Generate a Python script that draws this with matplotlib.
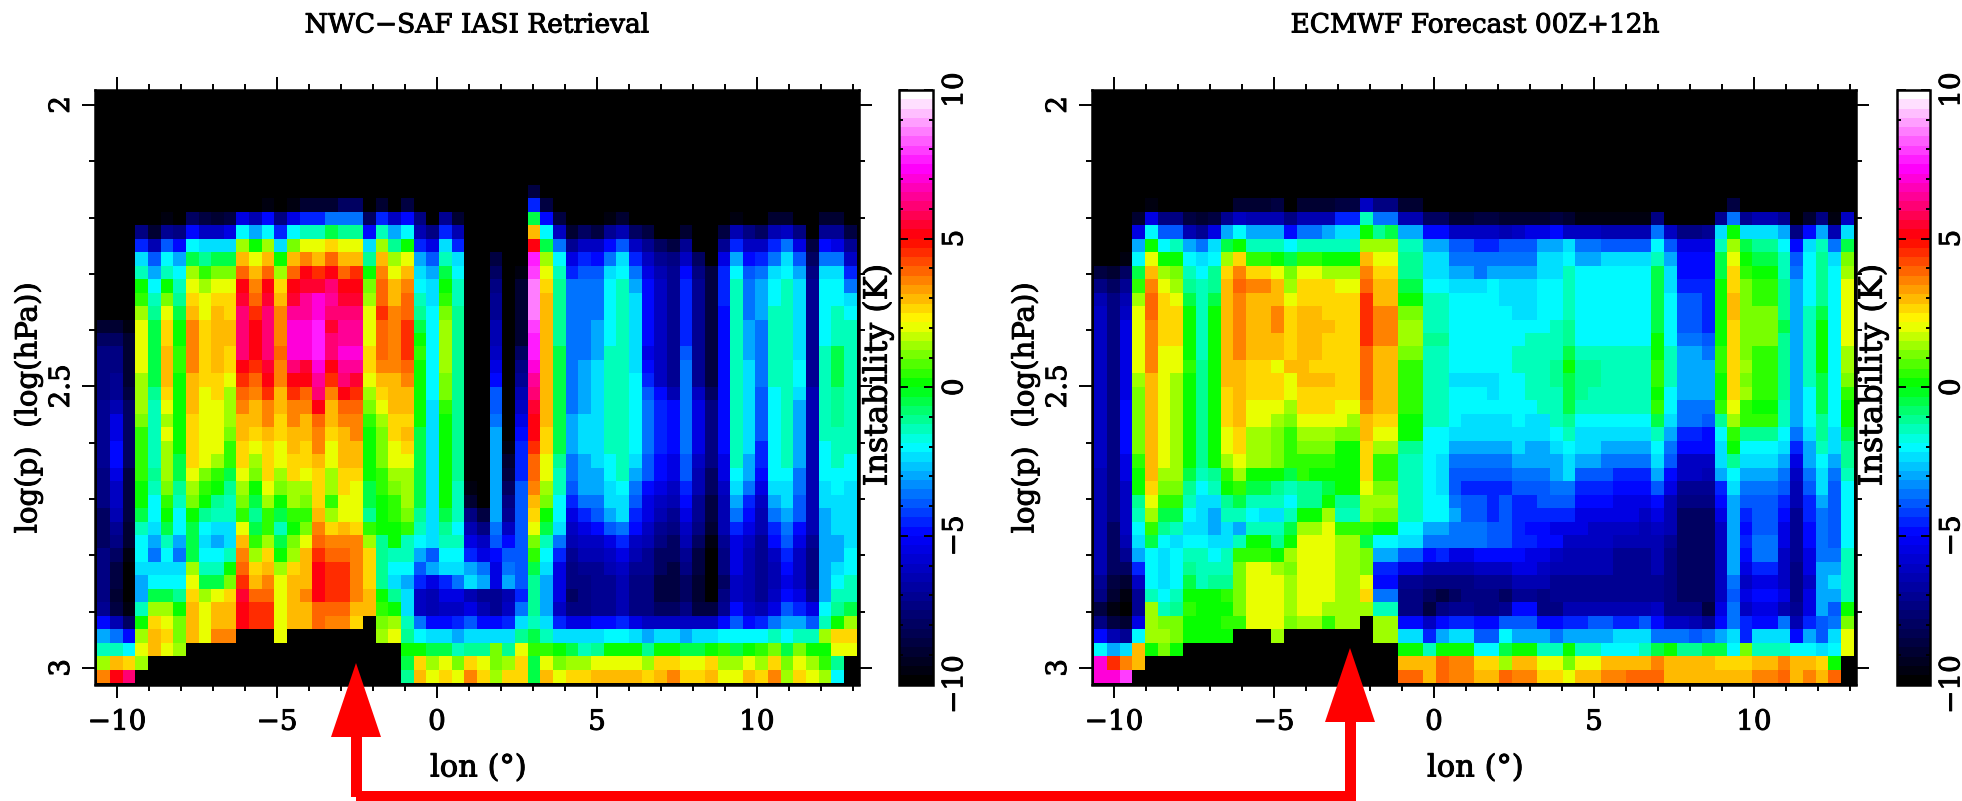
import numpy as np
import matplotlib
matplotlib.use("Agg")
import matplotlib.pyplot as plt
import matplotlib.patheffects as pe
from matplotlib.colors import LinearSegmentedColormap, Normalize
from matplotlib.patches import Polygon, Rectangle
from matplotlib.cm import ScalarMappable

B = -20  # black / no data (values below are instability in half-kelvin units)
plt.rcParams['font.family'] = ['DejaVu Serif']
plt.rcParams['axes.unicode_minus'] = True

titles = ["NWC\u2212SAF IASI Retrieval", "ECMWF Forecast 00Z+12h"]
x_ticks = [-10, -5, 0, 5, 10]
y_ticks = [2, 2.5, 3]
y_tick_labels = ["2", "2.5", "3"]
cbar_ticks = [-10, -5, 0, 5, 10]

# ---------------- NWC-SAF IASI retrieval, rows from top to bottom ----------------
iasi_00 = [B]*34+[-17]+[B]*25
iasi_01 = [B]*13+[-19,B,-19,-18,-18,-18,-16,-16,B,-18,B,-17]+[B]*9+[-9,-17]+[B]*24
iasi_02 = [B]*5+[-19,B,-16,-17,-18,-17]+[-11,-13,-10,-15,-11,-9,-9,-7,-7,-7,-16,-9,-12,-10,-15]+[B,-14,-18]+[B]*5+[-1,-10,-17]+[B]*3+[-19,-18]+[B]*8+[-19,B,B,-18,-18,B,B,-18,-18,B]
iasi_03 = [B]*3+[-15,-18,-14,-15,-10,-12,-12,-11,-4,-6,-4,-9,-4,-3,-3,-1,-2,-2,-10,-3,-6,-4,-13,-15,-9,-13]+[B]*5+[6,-4,-12,-18,-16,-17,-14,-13,-16,-17]+[B,B,-18,B,B]+[-17,-13,-15,-16,-13,-12,-15,B,-14,-14,-17]
iasi_04 = [B]*3+[-9,-13,-8,-10,-4,-5,-5,-5,3,0,3,-5,2,4,4,5,4,4,-5,3,-2,0,-9,-11,-5,-9]+[B]*5+[10,-1,-7,-14,-12,-12,-10,-8,-12,-14,-16,-17,-14]+[B,B]+[-14,-9,-12,-12,-9,-7,-11,-17,-10,-11,-14]
iasi_05 = [B]*3+[-5,-8,-4,-6,-1,-2,-1,-1,6,4,6,0,6,7,6,8,6,6,-2,6,3,4,-6,-8,-3,-5]+[B,B,-17,B,B]+[15,3,-4,-11,-9,-10,-7,-5,-9,-12,-14,-15,-12,-16]+[B]+[-11,-6,-10,-9,-7,-5,-8,-16,-7,-7,-12]
iasi_06 = [B]*3+[-3,-6,-3,-4,3,1,2,2,8,6,8,3,8,10,9,10,8,9,0,7,4,6,-5,-6,-1,-4]+[B,B,-16,B,-19]+[16,4,-3,-9,-8,-8,-5,-4,-7,-11,-13,-14,-10,-15,-17]+[-9,-4,-8,-7,-5,-4,-6,-15,-5,-5,-9]
iasi_07 = [B]*3+[0,-4,0,-3,4,3,4,4,10,7,10,5,10,11,11,12,10,10,2,8,6,7,-4,-5,0,-3]+[B,B,-15,B,-18]+[17,5,-2,-7,-7,-7,-4,-3,-6,-10,-12,-14,-9,-14,-17]+[-9,-3,-7,-6,-4,-3,-5,-14,-4,-4,-7]
iasi_08 = [B]*3+[1,-3,2,-2,5,4,5,5,11,8,11,6,11,13,14,13,11,11,3,8,6,8,-3,-5,1,-3]+[B,B,-14,B,-18]+[17,6,-2,-7,-7,-7,-4,-3,-5,-10,-12,-14,-9,-14,-17]+[-9,-3,-7,-6,-4,-3,-5,-14,-4,-4,-5]
iasi_09 = [B]*3+[3,-2,4,-1,6,4,6,5,12,9,12,7,13,13,14,12,12,12,4,9,7,8,-2,-4,2,-2]+[B,B,-14,B,-18]+[17,6,-2,-7,-7,-7,-4,-3,-5,-10,-12,-14,-9,-14,-17]+[-10,-3,-7,-6,-3,-3,-5,-14,-4,-3,-4]
iasi_10 = [-18,-18,-19,4,-1,5,0,7,5,6,6,12,10,12,7,14,14,15,11,13,13,4,8,7,9,-1,-4,3,-2]+[B,B,-13,B,-18]+[16,6,-2,-7,-7,-6,-4,-3,-5,-10,-12,-14,-9,-14,-17]+[-10,-3,-6,-7,-3,-3,-5,-14,-4,-3,-3]
iasi_11 = [-16,-16,-18,4,-1,5,0,7,5,6,6,12,10,12,7,14,14,15,12,13,13,4,8,7,9,0,-4,3,-2]+[B,B,-13,B,-18]+[15,6,-2,-7,-7,-6,-4,-3,-5,-10,-12,-14,-9,-14,-17]+[-10,-3,-6,-7,-3,-3,-5,-14,-4,-3,-3]
iasi_12 = [-15,-15,-18,4,-1,6,1,7,5,6,5,12,10,12,8,14,14,15,12,14,14,5,8,7,9,1,-4,3,-2]+[B,B,-12,B,-16]+[15,6,-1,-7,-7,-6,-3,-3,-5,-11,-12,-14,-8,-14,-17]+[-10,-3,-6,-7,-3,-3,-5,-14,-3,-1,-3]
iasi_13 = [-15,-15,-18,4,-1,6,1,7,5,6,5,10,9,11,7,12,11,14,10,13,13,5,7,7,8,0,-4,3,-2]+[B,B,-11,B,-15]+[14,6,-1,-7,-6,-5,-3,-3,-5,-10,-12,-14,-7,-14,-17]+[-10,-3,-5,-7,-3,-3,-4,-14,-3,-1,-3]
iasi_14 = [-15,-14,-18,3,-1,6,0,6,5,5,4,9,8,10,7,10,10,13,9,12,11,4,6,6,7,0,-4,2,-2]+[B,B,-10,B,-14]+[13,6,-1,-7,-6,-5,-3,-3,-4,-9,-12,-14,-7,-14,-17]+[-10,-3,-5,-7,-3,-3,-4,-14,-3,-1,-3]
iasi_15 = [-15,-14,-17,3,-2,5,0,6,4,5,3,8,7,9,6,9,8,12,7,10,9,3,5,6,6,0,-4,2,-2]+[B,B,-8,B,-13]+[12,6,-1,-7,-6,-5,-3,-3,-4,-8,-10,-13,-7,-12,-16]+[-10,-3,-5,-8,-4,-3,-5,-13,-3,-2,-3]
iasi_16 = [-14,-13,-16,3,-3,4,0,6,4,4,3,7,6,7,6,7,7,10,6,8,8,2,4,6,6,0,-5,1,-2]+[B,B,-8,B,-12]+[11,6,-1,-7,-6,-5,-3,-3,-4,-7,-9,-10,-7,-11,-15]+[-10,-3,-5,-8,-4,-3,-6,-13,-3,-2,-3]
iasi_17 = [-14,-11,-16,2,-3,3,0,5,4,4,3,6,6,7,5,7,6,8,6,7,7,1,3,5,5,0,-5,0,-2]+[B,B,-7,B,-11]+[10,6,-1,-6,-5,-5,-3,-3,-4,-7,-9,-10,-7,-11,-15]+[-10,-3,-5,-8,-4,-3,-6,-13,-3,-2,-3]
iasi_18 = [-14,-11,-16,1,-3,4,0,5,4,4,2,6,5,6,5,6,6,7,5,6,7,0,2,5,6,-1,-5,0,-2]+[B,B,-6,B,-10]+[10,5,-1,-6,-5,-5,-3,-3,-4,-7,-9,-10,-7,-11,-15]+[-10,-3,-5,-8,-4,-3,-6,-13,-3,-3,-3]
iasi_19 = [-14,-10,-16,1,-3,3,0,5,4,4,1,5,4,5,4,6,5,7,4,6,6,0,2,4,5,-1,-5,0,-2]+[B,B,-6,-19,-9]+[9,5,-1,-6,-5,-5,-3,-3,-4,-7,-9,-10,-7,-11,-15]+[-10,-3,-5,-9,-4,-3,-6,-13,-4,-3,-3]
iasi_20 = [-14,-10,-16,1,-3,3,-1,5,4,3,1,5,3,5,4,5,5,6,4,6,6,0,2,4,4,-1,-5,0,-2]+[B,B,-6,-18,-9]+[8,4,-2,-7,-6,-5,-4,-3,-5,-8,-10,-11,-8,-12,-15]+[-11,-3,-6,-9,-4,-3,-6,-13,-4,-3,-4]
iasi_21 = [-15,-11,-17,1,-2,3,-1,4,2,1,-1,4,2,5,3,5,4,5,3,5,5,0,1,3,3,-1,-5,0,-2]+[B,B,-6,-17,-9]+[8,4,-3,-7,-6,-6,-4,-3,-6,-8,-10,-11,-8,-13,-16]+[-11,-4,-6,-10,-4,-4,-7,-13,-4,-4,-4]
iasi_22 = [-15,-12,-17,0,-3,2,-2,3,1,0,-2,3,0,4,2,3,3,5,3,5,4,-1,1,2,3,-1,-5,0,-3]+[-19,B,-6,-16,-8]+[7,3,-3,-8,-6,-6,-5,-4,-7,-10,-11,-12,-9,-13,-16]+[-12,-5,-7,-11,-5,-5,-7,-13,-5,-4,-5]
iasi_23 = [-15,-12,-17,0,-4,1,-3,2,0,-2,-3,2,-1,3,0,3,2,5,1,4,4,-1,0,1,3,-1,-5,0,-3]+[-18,B,-6,-15,-8]+[6,2,-4,-9,-7,-7,-5,-5,-8,-11,-12,-13,-10,-14,-17]+[-13,-6,-9,-12,-6,-5,-8,-13,-5,-5,-5]
iasi_24 = [-16,-13,-17,-1,-4,0,-4,0,-2,-3,-3,1,-2,1,-1,1,1,6,3,4,4,-2,0,1,2,-2,-5,-1,-3]+[-15,-17,-6,-14,-8]+[5,0,-4,-11,-9,-8,-6,-5,-9,-11,-13,-14,-11,-14,-17]+[-13,-7,-10,-13,-7,-6,-8,-13,-6,-5,-5]
iasi_25 = [-16,-14,-18,-3,-5,-1,-4,-1,-4,-5,-5,4,-1,1,-3,0,2,7,5,6,5,1,0,0,1,-3,-5,-2,-4]+[-13,-15,-7,-12,-8]+[4,-1,-5,-12,-11,-10,-8,-7,-10,-12,-14,-15,-12,-15,-18]+[-13,-9,-11,-13,-9,-7,-10,-13,-6,-5,-5]
iasi_26 = [-16,-15,-18,-4,-6,-3,-6,-1,-5,-6,-5,6,1,3,-1,2,4,8,7,7,7,3,-2,0,-3,-4,-5,-3,-3]+[-11,-12,-8,-10,-8]+[2,-3,-7,-13,-12,-12,-11,-9,-12,-13,-15,-16,-13,-16,-19]+[-14,-11,-12,-14,-10,-8,-11,-14,-6,-6,-5]
iasi_27 = [-15,-16,-19,-4,-7,-4,-7,-1,-4,-4,-3,7,3,5,0,3,6,9,8,8,7,5,-2,-3,-3,-6,-8,-4,-4]+[-9,-11,-10,-8,-8]+[1,-4,-9,-14,-13,-13,-12,-11,-13,-14,-16,-16,-14,-17,-20]+[-15,-11,-13,-14,-12,-9,-12,-15,-6,-6,-4]
iasi_28 = [-15,-17,B,-5,-5,-5,-5,3,-3,-3,0,8,5,6,3,5,6,10,9,9,7,5,-2,-4,-4,-8,-6,-5,-5]+[-6,-7,-11,-7,-8]+[-1,-5,-11,-15,-14,-14,-13,-12,-14,-14,-16,-17,-15,-17,-20]+[-15,-11,-13,-14,-13,-10,-12,-15,-6,-5,-4]
iasi_29 = [-15,-17,B,-6,-4,-4,-4,4,-1,-1,2,9,6,7,4,6,6,10,9,9,7,5,-2,-5,-6,-9,-11,-9,-7]+[-5,-6,-11,-6,-8]+[-2,-6,-11,-15,-15,-14,-14,-13,-15,-15,-17,-17,-16,-18,-20]+[-16,-12,-13,-14,-13,-11,-12,-15,-6,-4,-3]
iasi_30 = [-15,-18,B,-6,-1,-1,-2,5,3,4,5,11,8,8,4,6,7,10,9,9,7,6,0,-2,-5,-12,-13,-11,-11]+[-13,-14,-14,-13,-9]+[-2,-6,-11,-16,-15,-14,-14,-13,-15,-15,-17,-17,-16,-18,-20]+[-15,-12,-13,-14,-12,-10,-11,-14,-6,-3,-3]
iasi_31 = [-14,-17,-19,-3,3,3,0,6,4,6,6,10,9,9,4,6,6,8,8,8,6,6,1,0,-5,-12,-13,-12,-12]+[-11,-13,-14,-12,-7]+[-2,-6,-12,-15,-15,-14,-14,-13,-15,-15,-16,-16,-15,-17,-17]+[-14,-10,-12,-13,-11,-8,-9,-11,-4,-2,-1]
iasi_32 = [-10,-13,-16,0,5,4,2,6,4,6,6,10,9,9,4,6,6,8,7,7,5,B,2,3,-3,-7,-10,-10,-9]+[-8,-10,-10,-9,-5]+[-3,-5,-9,-11,-11,-10,-10,-9,-11,-12,-12,-12,-12,-12,-12]+[-10,-8,-10,-9,-7,-6,-6,-8,-3,0,3]
iasi_33 = [-6,-7,-10,3,6,5,2,6,4,7,7,B,B,B,4]+[B]*7+[3,4,-2,-4,-5,-5,-6]+[-5,-5,-5,-5,-2]+[-1,-3,-5,-5,-5,-5,-4,-4,-5,-6,-5,-5,-6,-5,-5]+[-4,-4,-4,-4,-3,-4,-3,-3,3,5]+[5]
iasi_34 = [-3,-3,-4,4,6,4,3]+[B]*17+[0,0,-1,-1,-3,-2]+[-2,2,-2,4,1]+[1,0,-1,-3,-2,0,0,0,-2,0,0,-1,-1,0,1]+[-1,0,1,2,-1,2,0,0,4,4]
iasi_35 = [3,6,5,3]+[B]*20+[-1,5,3,4,2,5]+[4,2,3,5,-1]+[4,2,3,3,4,4,4,4,3,5,5,4,4,5,3]+[3,4,3,5,2,4,3,1,-2,B]
iasi_36 = [7,10,12]+[B]*21+[-2,6,4,5,4,7]+[5,3,5,5,-1]+[6,4,5,5,6,6,6,6,5,6,7,5,5,6,4]+[4,6,5,7,3,5,4,3,-4,B]

# ---------------- ECMWF forecast 00Z+12h, rows from top to bottom ----------------
ecmwf_00 = [B]*60
ecmwf_01 = [B]*4+[-19]+[B]*6+[-18,-18,-18,-17]+[B]+[-18,-18,-18,-17,-17,-12,-15,-15,-18,-18]+[B]*24+[-17]+[B]*9
ecmwf_02 = [B]*3+[-18,-11,-15,-15,-17,-18,-17,-14,-12,-13,-13,-13,-15,-13,-13,-13,-9,-9,-3,-7,-7,-13,-13,-16,-16,-18,-18,-17]+[-17,-18,-18,-18,-18,-17,-18,-19,-19,-19,-19,-19,-19,-15,B,B,B,B,-14,-7,-14,-13,-13,-14,B,-18,-15,-19,-12]
ecmwf_03 = [B]*3+[-11,-4,-8,-8,-13,-14,-11,-6,-4,-6,-6,-6,-10,-7,-7,-6,-5,-5,0,-2,-1,-6,-6,-10,-10,-12]+[-12,-12,-12,-13,-12,-11,-11,-10,-12,-12,-12,-13,-13,-13,-13,-7,-12,-15,-15,-14,-5,0,-5,-5,-5,-6,-15,-10,-6,-13,-5]
ecmwf_04 = [B]*3+[-6,0,-4,-3,-6,-7,-5,-1,0,-3,-3,-3,-4,-3,-3,-3,-3,-3,3,3,3,-3,-3,-6,-6,-8]+[-8,-9,-9,-8,-8,-8,-6,-6,-5,-7,-7,-8,-8,-8,-8,-4,-8,-11,-11,-11,-3,3,-1,-2,-2,-4,-10,-5,-3,-7,-1]
ecmwf_05 = [B,B,-19,-4,4,0,0,-4,-5,-4,3,5,1,1,0,-1,1,1,0,0,0,6,4,4,-2,-2,-5,-5,-7]+[-7,-7,-7,-7,-7,-7,-5,-5,-4,-6,-6,-5,-5,-5,-5,-3,-6,-10,-10,-10,-1,4,0,-1,-1,-3,-8,-4,-2,-5,2]
ecmwf_06 = [-17,-18,-16,-1,6,3,2,-3,-4,-2,5,7,5,5,4,2,4,4,3,3,3,7,5,5,-2,-2,-5,-5,-6]+[-6,-7,-6,-6,-6,-6,-5,-5,-3,-4,-4,-4,-4,-4,-4,-1,-5,-10,-10,-10,-1,5,1,0,0,-3,-7,-4,-2,-4,3]
ecmwf_07 = [-15,-16,-14,1,7,4,3,-2,-3,-2,6,8,7,7,6,3,5,5,5,4,4,8,6,6,-1,-1,-4,-4,-5]+[-5,-5,-4,-5,-5,-5,-4,-4,-3,-4,-4,-4,-4,-4,-4,-1,-5,-9,-9,-9,0,5,2,1,1,-2,-6,-4,-2,-4,4]
ecmwf_08 = [-13,-15,-13,3,8,5,4,-1,-3,-1,6,7,6,6,6,4,5,5,5,5,5,9,6,6,0,0,-3,-3,-4]+[-4,-4,-4,-5,-5,-5,-4,-4,-3,-4,-4,-4,-4,-4,-4,-1,-4,-8,-8,-9,0,6,2,1,1,-2,-6,-4,-2,-4,4]
ecmwf_09 = [-12,-15,-12,4,8,5,5,0,-3,0,6,7,6,6,7,5,6,6,5,5,5,9,7,7,2,2,-3,-3,-4]+[-4,-4,-4,-4,-5,-5,-4,-4,-3,-4,-4,-4,-4,-4,-4,-1,-4,-8,-8,-9,0,6,2,2,2,-2,-6,-3,-1,-4,4]
ecmwf_10 = [-12,-15,-11,4,7,5,5,0,-3,0,6,7,6,6,7,5,6,6,6,5,5,9,7,7,3,3,-3,-3,-4]+[-4,-4,-4,-4,-4,-4,-4,-3,-2,-4,-4,-4,-4,-4,-4,-1,-4,-8,-8,-9,0,5,2,2,2,-1,-6,-3,0,-4,4]
ecmwf_11 = [-12,-15,-11,4,7,5,5,0,-3,0,6,7,6,6,6,5,6,6,5,5,5,9,7,7,3,3,-2,-2,-4]+[-4,-4,-4,-4,-4,-3,-3,-3,-2,-4,-4,-4,-4,-4,-4,0,-4,-7,-7,-8,0,5,2,2,2,-2,-6,-3,0,-4,4]
ecmwf_12 = [-12,-15,-11,4,7,4,4,0,-3,0,6,7,6,6,6,5,6,6,5,5,5,8,6,6,2,2,-3,-3,-4]+[-4,-4,-4,-4,-3,-3,-3,-3,-1,-3,-3,-3,-3,-3,-3,0,-3,-6,-6,-7,1,5,2,1,1,-2,-6,-3,0,-4,3]
ecmwf_13 = [-12,-15,-11,4,7,4,4,1,-2,0,6,6,5,5,4,6,6,5,5,5,5,8,6,6,1,1,-3,-3,-4]+[-4,-4,-4,-4,-3,-3,-3,-2,0,-2,-2,-3,-3,-3,-3,1,-3,-6,-6,-6,1,5,3,1,1,-2,-6,-3,0,-4,3]
ecmwf_14 = [-12,-15,-11,3,6,4,3,0,-2,0,6,6,5,5,5,4,6,6,6,5,5,8,6,6,1,1,-3,-3,-5]+[-5,-5,-5,-4,-4,-3,-3,-2,-1,-2,-2,-3,-3,-3,-3,1,-3,-6,-6,-6,0,5,2,1,1,-2,-6,-3,-1,-4,2]
ecmwf_15 = [-12,-15,-11,2,6,4,3,0,-2,0,5,6,5,5,5,4,5,5,5,5,5,8,6,6,1,1,-3,-3,-4]+[-4,-4,-5,-4,-4,-3,-3,-3,-1,-2,-3,-3,-3,-3,-3,0,-4,-6,-6,-6,0,5,3,1,1,-2,-6,-4,-1,-4,1]
ecmwf_16 = [-12,-15,-10,2,6,4,3,0,-2,0,5,6,4,4,4,3,5,5,5,4,4,7,6,6,1,1,-3,-3,-4]+[-4,-4,-4,-4,-4,-4,-3,-3,-1,-3,-3,-3,-3,-3,-3,1,-4,-7,-7,-7,1,4,1,0,0,-3,-6,-4,-1,-4,0]
ecmwf_17 = [-12,-15,-10,2,6,4,3,0,-2,0,5,6,4,4,3,2,4,4,4,4,3,6,5,5,0,0,-3,-3,-4]+[-5,-5,-5,-5,-4,-5,-5,-3,-2,-4,-4,-4,-4,-4,-4,-1,-5,-7,-7,-8,-2,3,1,1,1,-3,-6,-4,-2,-4,0]
ecmwf_18 = [-12,-15,-10,2,6,4,3,0,-2,0,4,5,3,3,2,1,3,3,3,2,2,6,4,4,0,0,-4,-4,-5]+[-5,-5,-5,-5,-5,-5,-5,-4,-3,-5,-5,-5,-5,-5,-5,-3,-6,-9,-9,-10,-4,1,-2,-2,-2,-4,-7,-5,-2,-5,-1]
ecmwf_19 = [-12,-15,-10,2,6,4,3,0,-2,0,4,5,3,3,2,1,2,2,2,0,0,5,3,3,-2,-2,-4,-4,-6]+[-6,-6,-6,-6,-5,-6,-6,-5,-4,-5,-5,-6,-6,-6,-6,-4,-7,-10,-10,-10,-5,0,-4,-4,-4,-5,-9,-6,-3,-5,-2]
ecmwf_20 = [-12,-15,-11,1,6,4,3,0,-2,0,3,4,3,3,2,1,1,1,1,0,0,5,1,1,-3,-3,-4,-5,-7]+[-7,-7,-7,-7,-6,-6,-6,-6,-5,-6,-6,-7,-7,-7,-7,-5,-8,-12,-12,-12,-5,-2,-5,-5,-5,-6,-11,-6,-4,-6,-2]
ecmwf_21 = [-13,-15,-11,0,6,3,3,-1,-3,-2,1,3,0,0,0,-1,1,0,0,0,0,5,1,1,-3,-3,-4,-5,-8]+[-8,-8,-8,-8,-7,-7,-7,-6,-5,-8,-8,-8,-9,-9,-9,-6,-10,-12,-12,-13,-6,-4,-6,-6,-6,-7,-12,-7,-5,-7,-3]
ecmwf_22 = [-13,-15,-12,0,5,2,2,-2,-4,-3,0,1,-1,-1,-2,-3,-2,-2,-1,0,0,4,2,2,-3,-3,-4,-5,-8]+[-9,-9,-9,-9,-8,-8,-8,-7,-7,-9,-9,-9,-10,-10,-10,-8,-11,-14,-14,-14,-9,-5,-7,-7,-7,-8,-13,-8,-5,-8,-4]
ecmwf_23 = [-13,-15,-12,-2,4,1,1,-3,-5,-5,-2,-1,-3,-3,-3,-4,-2,-2,0,-2,-2,3,3,3,-3,-3,-4,-4,-7]+[-8,-8,-9,-8,-9,-9,-8,-8,-8,-10,-10,-10,-11,-11,-11,-10,-13,-15,-15,-15,-10,-6,-8,-8,-8,-9,-13,-9,-6,-8,-4]
ecmwf_24 = [-13,-15,-12,-3,3,-1,-1,-4,-5,-6,-3,-3,-4,-5,-5,-3,0,0,3,-3,-3,3,2,2,-3,-3,-4,-4,-6]+[-8,-8,-9,-8,-9,-9,-9,-9,-9,-11,-11,-11,-11,-11,-12,-11,-13,-16,-16,-16,-11,-6,-9,-8,-8,-10,-14,-9,-7,-8,-4]
ecmwf_25 = [-13,-16,-12,-4,1,-2,-3,-5,-5,-6,-5,-6,-3,-3,-3,-1,3,3,4,1,1,1,0,0,-4,-4,-6,-6,-7]+[-7,-7,-8,-8,-9,-10,-10,-11,-11,-11,-12,-12,-12,-12,-13,-12,-13,-16,-16,-16,-12,-6,-10,-8,-8,-11,-14,-10,-7,-8,-4]
ecmwf_26 = [-13,-16,-13,-5,-1,-4,-5,-4,-4,-5,-5,-3,0,0,-2,0,4,4,4,3,3,-1,-4,-4,-5,-5,-7,-7,-7]+[-7,-7,-8,-8,-9,-9,-10,-10,-12,-12,-12,-12,-13,-13,-13,-13,-14,-16,-16,-16,-12,-6,-9,-7,-7,-11,-14,-10,-7,-8,-4]
ecmwf_27 = [-13,-16,-14,-6,-4,-5,-4,-3,-3,-4,-3,1,1,1,0,3,4,4,4,3,3,2,-6,-6,-8,-8,-10,-9,-11]+[-11,-10,-10,-10,-10,-11,-11,-12,-13,-13,-13,-13,-14,-14,-14,-13,-15,-16,-16,-16,-12,-6,-10,-7,-7,-12,-14,-11,-7,-7,-3]
ecmwf_28 = [-13,-16,-16,-9,-4,-5,-4,-2,-3,-3,-3,2,4,4,3,2,4,4,4,3,3,2,-9,-9,-11,-11,-13,-13,-13]+[-13,-12,-12,-12,-11,-11,-12,-13,-13,-13,-13,-13,-14,-14,-14,-13,-15,-16,-16,-16,-12,-6,-11,-9,-9,-12,-15,-11,-6,-6,-3]
ecmwf_29 = [-14,-17,-18,-12,-4,-5,-4,-1,-3,-2,-2,2,4,4,4,3,4,4,4,3,3,4,-10,-10,-14,-14,-15,-15,-15]+[-15,-14,-14,-14,-13,-13,-13,-14,-14,-14,-14,-14,-14,-14,-14,-14,-15,-16,-16,-16,-12,-7,-12,-11,-11,-12,-15,-12,-6,-5,-3]
ecmwf_30 = [-15,-18,-19,-14,-3,-4,-3,0,0,0,1,2,4,4,4,3,4,4,4,3,3,5,-7,-7,-15,-15,-16,-17,-16]+[-15,-15,-15,-16,-14,-14,-15,-14,-14,-14,-14,-14,-14,-14,-14,-14,-15,-16,-16,-16,-12,-8,-11,-10,-10,-11,-15,-11,-6,-6,-3]
ecmwf_31 = [-17,-19,B,-14,3,-3,-2,1,0,0,0,2,4,4,4,3,4,4,3,3,3,3,-3,-3,-15,-15,-17,-15,-14]+[-14,-15,-15,-14,-10,-10,-15,-15,-13,-13,-13,-13,-13,-13,-13,-12,-15,-15,-15,-17,-11,-7,-12,-11,-11,-13,-14,-11,-6,-8,0]
ecmwf_32 = [-15,-17,-18,-11,3,2,2,0,0,0,1,1,4,4,4,2,3,3,1,3,3,B,3,3,-10,-10,-12,-10,-9]+[-9,-10,-10,-8,-8,-8,-10,-10,-9,-9,-8,-8,-9,-9,-8,-10,-12,-12,-13,-14,-10,-7,-9,-10,-10,-7,-13,-9,-8,-7,2]
ecmwf_33 = [-10,-13,-14,-4,3,3,2,0,0,0,0,B,B,B,3]+[B]*7+[3,3,-5,-5,-9,-6,-5,-5]+[-8,-8,-4,-6,-6,-6,-7,-6,-6,-6,-6,-5,-5,-5,-7,-7,-7,-8,-7,-6,-5,-9,-5,-5,-5,-10,-6,-8,-5,4]
ecmwf_34 = [-4,-6,-5,6,0,2,0]+[B]*17+[0,0,-3,0,0,0,-4,-4]+[-1,0,0,-3,-3,0,-3,-3,-4,-4,-4,-3,-1,0,-2,-2,-1,-1,-4,2,-3,-3,-3,-4,-4,-5,-4,4]
ecmwf_35 = [14,9,7,6]+[B]*20+[6,6,6,8,7,7,5,5]+[3,6,6,4,4,2,4,4,6,6,6,6,7,6,6,6,6,5,5,5,6,6,7,6,6,5,0,B]
ecmwf_36 = [14,14,16]+[B]*21+[8,8,6,8,7,7,6,6]+[8,7,7,5,5,4,6,6,7,7,8,8,8,6,6,6,6,6,6,6,7,7,8,6,7,6,8,B]

def grid(prefix):
    rows = []
    for i in range(37):
        r = list(globals()[f"{prefix}_{i:02d}"])[:60]
        r += [B]*(60-len(r))
        rows.append(r)
    return np.array(rows, float)/2.0

W, H = 1962, 801
fig = plt.figure(figsize=(W/100, H/100), dpi=100, facecolor='white')
heavy = [pe.withStroke(linewidth=0.7, foreground='black')]

def rect(l, t, r, b):
    return [l/W, 1-b/H, (r-l)/W, (b-t)/H]

stops = [(-10,(0,0,0)),(-5,(0,0,1)),(-2,(0,1,1)),(0.1,(0,1,0)),(2.25,(1,1,0)),(5.1,(1,0,0)),(7.5,(1,0,1)),(10,(1,1,1))]
cmap = LinearSegmentedColormap.from_list('inst', [((v+10)/20, c) for v, c in stops], N=64)
norm = Normalize(-10, 10)

lon_edges = np.linspace(-10.62, 13.12, 61)
lev_edges = np.linspace(2.142, 3.027, 38)
LW = 1.8

panels = [
    (grid('iasi'),  95,  859,  899,  933, 60,  28,  430, 878),
    (grid('ecmwf'), 1092, 1856, 1897, 1930, 1057, 1025, 1427, 1873),
]
title_x = [477, 1475]

for k, (data, l, r, cl, cr, ty, yl, xl, il) in enumerate(panels):
    ax = fig.add_axes(rect(l, 90, r, 684.5), facecolor='black')
    ax.pcolormesh(lon_edges, lev_edges, data, cmap=cmap, norm=norm, shading='flat', antialiased=False)
    ax.set_xlim(-10.69, 13.19)
    ax.set_ylim(3.0295, 1.9735)
    ax.set_xticks(x_ticks)
    ax.set_xticklabels([str(v).replace('-', '\u2212') for v in x_ticks], fontsize=20)
    ax.set_yticks(y_ticks)
    ax.set_yticklabels(y_tick_labels, fontsize=20, rotation=90, va='center')
    ax.set_xticks(np.arange(-10, 14), minor=True)
    ax.set_yticks(np.arange(2, 3.05, 0.1), minor=True)
    ax.tick_params(which='major', length=9.4, width=1.4, direction='out', top=True, right=True)
    ax.tick_params(axis='x', which='major', pad=8)
    ax.tick_params(axis='y', which='major', pad=5)
    ax.tick_params(which='minor', length=4.3, width=1.4, direction='out', top=True, right=True)
    for s in ax.spines.values():
        s.set_linewidth(LW)
    texts = list(ax.get_xticklabels()) + list(ax.get_yticklabels())
    texts.append(fig.text(title_x[k]/W, 1-25/H, titles[k], fontsize=19, ha='center', va='center'))
    texts.append(fig.text(xl/W, 1-768/H, "lon (\u00b0)", fontsize=22, ha='left', va='center'))
    texts.append(fig.text(yl/W, 1-408/H, "log(p)  (log(hPa))", fontsize=21, rotation=90, ha='center', va='center'))
    texts.append(fig.text(il/W, 1-375/H, "Instability (K)", fontsize=23, rotation=90, ha='center', va='center'))

    cax = fig.add_axes(rect(cl, 90, cr, 684.5))
    cb = fig.colorbar(ScalarMappable(norm=norm, cmap=cmap), cax=cax)
    cb.set_ticks(cbar_ticks)
    cb.set_ticklabels([str(v).replace('-', '\u2212') for v in cbar_ticks])
    cb.ax.set_yticks(np.arange(-10, 11), minor=True)
    cb.outline.set_linewidth(LW)
    cb.ax.tick_params(which='major', direction='in', length=6.5, width=1.4, left=True, right=True, labelsize=20, pad=6)
    cb.ax.tick_params(which='minor', direction='in', length=3.2, width=1.4, left=True, right=True)
    for t in cb.ax.get_yticklabels():
        t.set_rotation(90)
        t.set_va('center')
        texts.append(t)
    for t in texts:
        t.set_path_effects(heavy)

# red arrows joining the two panels
ov = fig.add_axes([0, 0, 1, 1], facecolor='none')
ov.set_xlim(0, W)
ov.set_ylim(H, 0)
ov.axis('off')
red = '#ff0000'
ov.add_patch(Polygon([(356, 663), (331, 737), (381, 737)], closed=True, fc=red, ec='none'))
ov.add_patch(Polygon([(1350, 648), (1325, 722), (1375, 722)], closed=True, fc=red, ec='none'))
ov.add_patch(Rectangle((351, 737), 11, 60, fc=red, ec='none'))
ov.add_patch(Rectangle((1345, 722), 11, 79, fc=red, ec='none'))
ov.add_patch(Rectangle((356, 791), 1000, 10, fc=red, ec='none'))

fig.savefig('out.png', dpi=100)
